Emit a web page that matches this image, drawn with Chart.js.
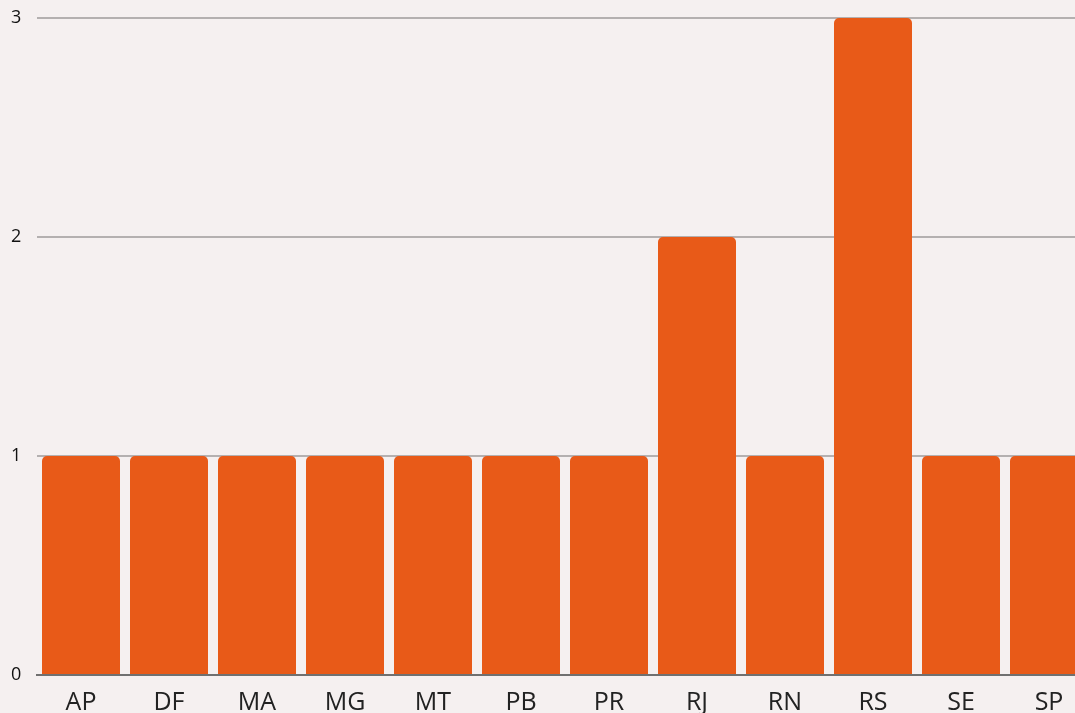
<!DOCTYPE html>
<html>
<head>
<meta charset="utf-8">
<script src="https://cdn.jsdelivr.net/npm/chart.js@4"></script>
<style>
    html, body { margin: 0; padding: 0; background: #f5f0f0; overflow: hidden; }
    #wrap { width: 1093px; height: 713px; }
</style>
</head>
<body>
<div id="wrap"><canvas id="chartEstados"></canvas></div>
<script>
/* ------------------------------------------------------------
   Дані
------------------------------------------------------------ */

const estados = ["AP", "DF", "MA", "MG", "MT", "PB", "PR", "RJ", "RN", "RS", "SE", "SP"];
const totais = [1, 1, 1, 1, 1, 1, 1, 2, 1, 3, 1, 1];
const yTicks = [0, 1, 2, 3];

/* ------------------------------------------------------------
   Графік
------------------------------------------------------------ */

const ctx = document.getElementById("chartEstados");

new Chart(ctx, {
    type: "bar",
    data: {
        labels: estados,
        datasets: [{
            data: totais,
            backgroundColor: "#e85a18",
            borderRadius: { topLeft: 5, topRight: 5, bottomLeft: 0, bottomRight: 0 },
            borderSkipped: false,
            barPercentage: 78 / 88,
            categoryPercentage: 1
        }]
    },
    options: {
        responsive: true,
        maintainAspectRatio: false,
        animation: false,
        layout: { padding: { left: 11, top: 18, right: 0, bottom: 0 } },
        plugins: {
            legend: { display: false },
            tooltip: { enabled: false }
        },
        scales: {
            x: {
                grid: { display: false },
                border: { display: true, color: "#707070", width: 2 },
                ticks: {
                    color: "#222",
                    font: { family: "Open Sans", size: 25, lineHeight: 1 },
                    padding: 7,
                    maxRotation: 0
                },
                afterFit: (s) => { s.height = 38; }
            },
            y: {
                min: 0,
                max: yTicks[yTicks.length - 1],
                afterBuildTicks: (s) => { s.ticks = yTicks.map(v => ({ value: v })); },
                grid: { color: "#b4b0b0", lineWidth: 2, drawTicks: false },
                border: { display: false },
                ticks: {
                    color: "#111",
                    font: { family: "Open Sans", size: 18, weight: "500" },
                    crossAlign: "far",
                    padding: 0
                },
                afterFit: (s) => { s.width = 26; }
            }
        }
    }
});
</script>
</body>
</html>
